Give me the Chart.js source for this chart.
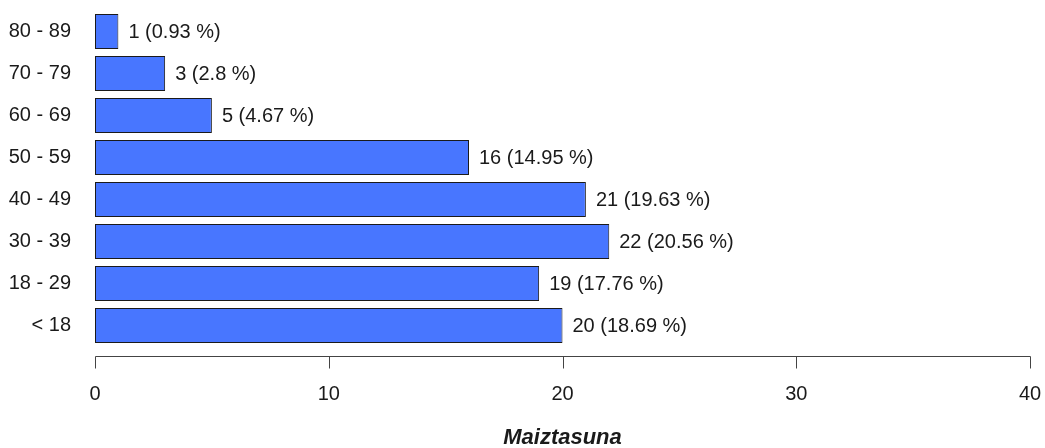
<!DOCTYPE html>
<html>
<head>
<meta charset="utf-8">
<script src="https://cdn.jsdelivr.net/npm/chart.js@4"></script>
<style>
html,body{margin:0;padding:0;background:#fff;}
#wrap{width:1045px;height:448px;position:relative;}
</style>
</head>
<body>
<div id="wrap"><canvas id="c" width="1045" height="448"></canvas></div>
<script>
const categories = ['< 18', '18 - 29', '30 - 39', '40 - 49', '50 - 59', '60 - 69', '70 - 79', '80 - 89'];
const counts = [20, 19, 22, 21, 16, 5, 3, 1];
const percentLabels = ['18.69', '17.76', '20.56', '19.63', '14.95', '4.67', '2.8', '0.93'];
const xTicks = [0, 10, 20, 30, 40];
const axisTitle = 'Maiztasuna';

const FONT = '"Liberation Sans", Arial, Helvetica, sans-serif';
const TEXT = '#1a1a1a';

const valueLabels = {
  id: 'valueLabels',
  afterDatasetsDraw(chart) {
    const ctx = chart.ctx;
    const meta = chart.getDatasetMeta(0);
    ctx.save();
    ctx.font = '20px ' + FONT;
    ctx.fillStyle = TEXT;
    ctx.textAlign = 'left';
    ctx.textBaseline = 'middle';
    meta.data.forEach((bar, i) => {
      ctx.fillText(counts[i] + ' (' + percentLabels[i] + ' %)', bar.x + 10, bar.y + 1);
    });
    ctx.restore();
  }
};

const rAxis = {
  id: 'rAxis',
  afterDraw(chart) {
    const ctx = chart.ctx;
    const xs = chart.scales.x;
    const y0 = Math.round(chart.chartArea.bottom + 9) + 0.5;
    ctx.save();
    ctx.strokeStyle = '#444';
    ctx.lineWidth = 1;
    ctx.beginPath();
    const xa = Math.round(xs.getPixelForValue(xTicks[0])) + 0.5;
    const xb = Math.round(xs.getPixelForValue(xTicks[xTicks.length - 1])) + 0.5;
    ctx.moveTo(xa, y0);
    ctx.lineTo(xb, y0);
    xTicks.forEach(t => {
      const px = Math.round(xs.getPixelForValue(t)) + 0.5;
      ctx.moveTo(px, y0);
      ctx.lineTo(px, y0 + 12);
    });
    ctx.stroke();
    ctx.restore();
  }
};

new Chart(document.getElementById('c'), {
  type: 'bar',
  data: {
    labels: categories,
    datasets: [{
      data: counts,
      backgroundColor: '#4876FF',
      borderColor: '#1a1a1a',
      borderWidth: 1,
      borderSkipped: false,
      barPercentage: 0.833,
      categoryPercentage: 1
    }]
  },
  options: {
    indexAxis: 'y',
    responsive: false,
    animation: false,
    devicePixelRatio: 1,
    layout: { padding: { top: 10.5, right: 15, bottom: 0, left: 0 } },
    plugins: { legend: { display: false }, tooltip: { enabled: false } },
    scales: {
      x: {
        type: 'linear',
        min: 0,
        max: 40,
        afterFit(s) { s.height = 101.5; s.paddingLeft = 0; s.paddingRight = 0; },
        afterBuildTicks(s) { s.ticks = xTicks.map(v => ({ value: v })); },
        grid: { display: false, drawTicks: false },
        border: { display: false },
        ticks: { padding: 36, color: TEXT, font: { family: FONT, size: 20 } },
        title: {
          display: true,
          text: axisTitle,
          color: TEXT,
          padding: { top: 0, bottom: -1 },
          font: { family: FONT, size: 22, weight: 'bold', style: 'italic', lineHeight: 1 }
        }
      },
      y: {
        reverse: true,
        afterFit(s) { s.width = 95; s.paddingTop = 0; s.paddingBottom = 0; },
        grid: { display: false, drawTicks: false },
        border: { display: false },
        ticks: { padding: 24, color: TEXT, font: { family: FONT, size: 20 } }
      }
    }
  },
  plugins: [valueLabels, rAxis]
});
</script>
</body>
</html>
